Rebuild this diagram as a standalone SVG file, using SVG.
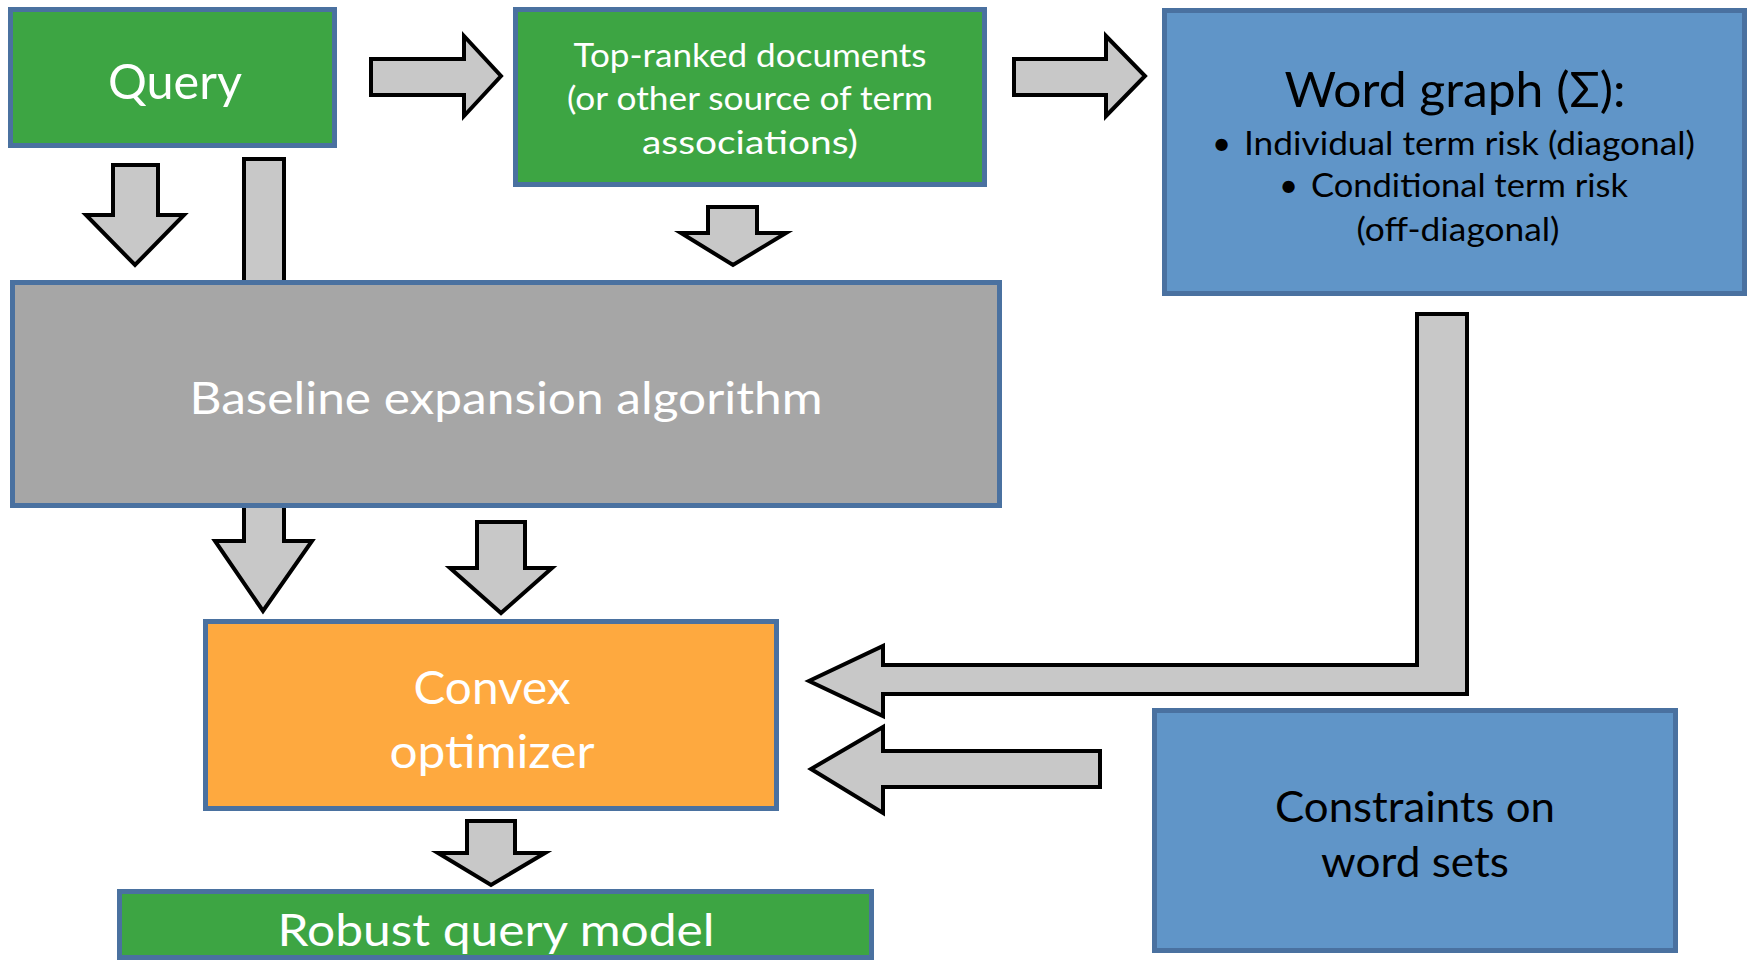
<svg xmlns="http://www.w3.org/2000/svg" width="1751" height="960" viewBox="0 0 1751 960">
<style>
.box{stroke:#4a71a0;stroke-width:5}
.green{fill:#3da543}
.blue{fill:#6095c8}
.gray{fill:#a6a6a6}
.orange{fill:#fea93f}
.arr{fill:#c8c8c8;stroke:#000;stroke-width:4;stroke-linejoin:miter}
text{font-family:Lato,"Open Sans","Liberation Sans",sans-serif}
.w{fill:#fff;text-anchor:middle}
.k{fill:#000}
.c{text-anchor:middle}
</style>
<rect width="1751" height="960" fill="#fff"/>
<g id="connectors">
<polygon class="arr" points="244,159 284,159 284,541 312,541 263,611 215,541 244,541"/>
<polygon class="arr" points="371,59 464,59 464,36 501,76 464,116 464,95 371,95"/>
<polygon class="arr" points="1014,59 1106,59 1106,36 1145,76 1106,116 1106,95 1014,95"/>
<polygon class="arr" points="113,165 158,165 158,215 184,215 135,265 86,215 113,215"/>
<polygon class="arr" points="708,207 757,207 757,233 786,233 733,265 681,233 708,233"/>
<polygon class="arr" points="477,522 525,522 525,568 552,568 501,613 450,568 477,568"/>
<polygon class="arr" points="467,821 515,821 515,853 545,853 491,885 438,853 467,853"/>
<polygon class="arr" points="1417,314 1467,314 1467,694 883,694 883,716 809,681 883,646 883,665 1417,665"/>
<polygon class="arr" points="1100,751 1100,787 883,787 883,813 811,769 883,727 883,751"/>
</g>
<g id="query">
<rect class="box green" x="10.5" y="9.5" width="324" height="136"/>
<text class="w" x="175" y="99" font-size="48" textLength="134" lengthAdjust="spacingAndGlyphs">Query</text>
</g>
<g id="top-ranked">
<rect class="box green" x="515.5" y="9.5" width="469" height="175"/>
<text class="w" x="750" y="67" font-size="32" textLength="353" lengthAdjust="spacingAndGlyphs">Top-ranked documents</text>
<text class="w" x="750" y="110" font-size="32" textLength="366" lengthAdjust="spacingAndGlyphs">(or other source of term</text>
<text class="w" x="750" y="154" font-size="32" textLength="216" lengthAdjust="spacingAndGlyphs">associations)</text>
</g>
<g id="word-graph">
<rect class="box blue" x="1164.5" y="10.5" width="580" height="283"/>
<text class="k c" x="1455" y="107" font-size="48" textLength="341" lengthAdjust="spacingAndGlyphs">Word graph (Σ):</text>
<text class="k" x="1212" y="155" font-size="33">•</text>
<text class="k" x="1244" y="155" font-size="33" textLength="451" lengthAdjust="spacingAndGlyphs">Individual term risk (diagonal)</text>
<text class="k" x="1279" y="197" font-size="33">•</text>
<text class="k" x="1311" y="197" font-size="33" textLength="317" lengthAdjust="spacingAndGlyphs">Conditional term risk</text>
<text class="k c" x="1458" y="241" font-size="33" textLength="203" lengthAdjust="spacingAndGlyphs">(off-diagonal)</text>
</g>
<g id="baseline">
<rect class="box gray" x="12.5" y="282.5" width="987" height="223"/>
<text class="w" x="506" y="414" font-size="45" textLength="633" lengthAdjust="spacingAndGlyphs">Baseline expansion algorithm</text>
</g>
<g id="convex">
<rect class="box orange" x="205.5" y="621.5" width="571" height="187"/>
<text class="w" x="492" y="704" font-size="46" textLength="157" lengthAdjust="spacingAndGlyphs">Convex</text>
<text class="w" x="492" y="768" font-size="46" textLength="205" lengthAdjust="spacingAndGlyphs">optimizer</text>
</g>
<g id="constraints">
<rect class="box blue" x="1154.5" y="710.5" width="521" height="240"/>
<text class="k c" x="1415" y="822" font-size="42" textLength="280" lengthAdjust="spacingAndGlyphs">Constraints on</text>
<text class="k c" x="1415" y="877" font-size="42" textLength="188" lengthAdjust="spacingAndGlyphs">word sets</text>
</g>
<g id="robust">
<rect class="box green" x="119.5" y="891.5" width="752" height="66"/>
<text class="w" x="496" y="946" font-size="45" textLength="437" lengthAdjust="spacingAndGlyphs">Robust query model</text>
</g>
</svg>
